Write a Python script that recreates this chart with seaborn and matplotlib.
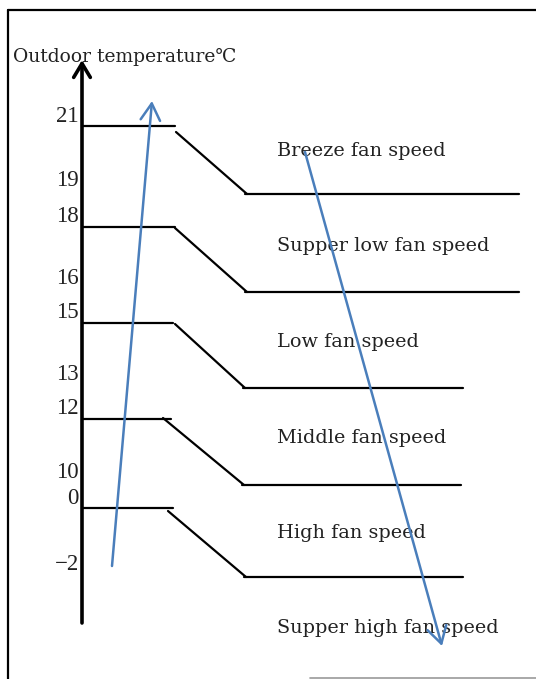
import pandas as pd
import matplotlib.pyplot as plt
import seaborn as sns

# fan speed thresholds (outdoor temperature, deg C)
upper_temps = [21, 18, 15, 12, 0]
lower_temps = [19, 16, 13, 10, -2]
speed_labels = ["Breeze fan speed", "Supper low fan speed", "Low fan speed",
                "Middle fan speed", "High fan speed", "Supper high fan speed"]
axis_title = "Outdoor temperature\u2103"

# layout of the sketch (pixel grid of the original drawing)
upper_y = [126, 227, 323, 419, 508]
lower_y = [194, 292, 388, 485, 577]
upper_end = [175, 175, 173, 171, 173]
slope_start = [(176, 132), (175, 228), (175, 324), (163, 418), (168, 511)]
lower_start = [247, 247, 245, 244, 246]
lower_end = [519, 519, 463, 461, 463]
label_y = [151, 246, 342, 438, 533, 628]
axis_x = 82

sns.set_theme(style="white")
plt.rcParams['font.family'] = ['DejaVu Serif', 'DejaVu Sans']

fig = plt.figure(figsize=(5.36, 6.79), dpi=100)
ax = fig.add_axes([0, 0, 1, 1])

# build segments of the step curves
rows = []
seg = 0
for i in range(len(upper_temps)):
    for x, y in [(axis_x, upper_y[i]), (upper_end[i], upper_y[i])]:
        rows.append(dict(x=x, y=y, seg=seg))
    seg += 1
    for x, y in [slope_start[i], (lower_start[i], lower_y[i])]:
        rows.append(dict(x=x, y=y, seg=seg))
    seg += 1
    for x, y in [(lower_start[i] - 2, lower_y[i]), (lower_end[i], lower_y[i])]:
        rows.append(dict(x=x, y=y, seg=seg))
    seg += 1
df = pd.DataFrame(rows)
sns.lineplot(data=df, x="x", y="y", units="seg", estimator=None, sort=False,
             color="black", linewidth=1.6, ax=ax, legend=False)
ax.set_xlim(0, 536)
ax.set_ylim(679, 0)
ax.axis("off")

# frame of the sketch
ax.plot([8, 536], [10, 10], color="black", lw=1.6)
ax.plot([8, 8], [10, 679], color="black", lw=1.6)
ax.plot([310, 536], [678, 678], color="#999999", lw=1.2)

# vertical temperature axis with arrow
ax.annotate("", xy=(axis_x, 60), xytext=(axis_x, 623),
            arrowprops=dict(arrowstyle="->,head_length=0.5,head_width=0.3",
                            color="black", lw=2.6, mutation_scale=20,
                            shrinkA=0, shrinkB=0))

# temperature tick labels (upper thresholds sit just above their line,
# lower thresholds a bit higher)
for temps, ys, off in [(upper_temps, upper_y, 10), (lower_temps, lower_y, 13)]:
    for t, y in zip(temps, ys):
        txt = str(t).replace("-", "\u2212")
        ax.text(79, y - off, txt, ha="right", va="center", fontsize=16.5,
                family=["Liberation Serif", "DejaVu Serif"], color="#222222")

ax.text(13, 57, axis_title, ha="left", va="center", fontsize=13.5, color="#222222")
for lab, y in zip(speed_labels, label_y):
    ax.text(277, y, lab, ha="left", va="center", fontsize=13.9, color="#222222")

# blue trend arrows
blue = "#4a7ebb"
ax.annotate("", xy=(152, 101), xytext=(112, 566),
            arrowprops=dict(arrowstyle="->,head_length=0.6,head_width=0.35",
                            color=blue, lw=1.8, mutation_scale=20,
                            shrinkA=0, shrinkB=0))
ax.annotate("", xy=(442, 646), xytext=(305, 152),
            arrowprops=dict(arrowstyle="->,head_length=0.6,head_width=0.35",
                            color=blue, lw=1.8, mutation_scale=20,
                            shrinkA=0, shrinkB=0))

fig.savefig("out.png", dpi=100)
